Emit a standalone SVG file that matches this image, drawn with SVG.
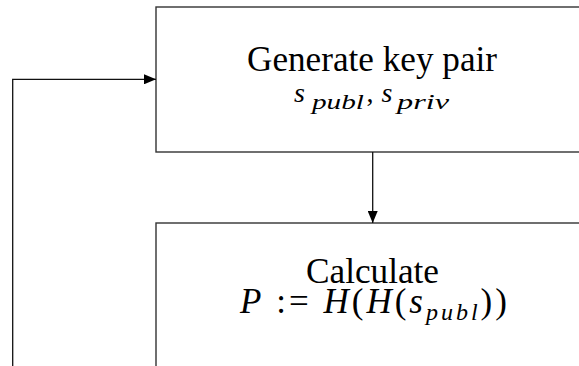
<svg xmlns="http://www.w3.org/2000/svg" width="579" height="366" viewBox="0 0 579 366">
<style>
.box{fill:#fff;stroke:#333;stroke-width:1.4}
.conn{fill:none;stroke:#111;stroke-width:1.3}
text{font-family:"Liberation Serif","DejaVu Serif","Noto Serif","Times New Roman",serif;fill:#000}
.t{font-size:35px}
.m1{font-size:28px;font-style:italic;text-anchor:middle}
.s1{font-size:22px;font-style:italic}
.m2{font-size:35px;text-anchor:middle;letter-spacing:3px}
.i{font-style:italic}
.s2{font-size:24px;font-style:italic}
.u{font-style:normal}
</style>
<defs>
<marker id="ah" viewBox="0 0 12 10" refX="12" refY="5" markerWidth="12" markerHeight="10" markerUnits="userSpaceOnUse" orient="auto">
<path d="M0,0 L12,5 L0,10 z" fill="#000"/>
</marker>
</defs>
<rect width="579" height="366" fill="#fff"/>
<g id="node-generate">
<rect class="box" x="156" y="7" width="460" height="145"/>
<text class="t" x="247" y="71" textLength="250" lengthAdjust="spacingAndGlyphs">Generate key pair</text>
<text class="m1" x="299.5" y="102">s</text>
<text class="s1" x="312" y="109" textLength="52" lengthAdjust="spacingAndGlyphs">publ</text>
<text class="m1 u" x="370" y="102">,</text>
<text class="m1" x="387" y="102">s</text>
<text class="s1" x="397" y="109" textLength="52" lengthAdjust="spacingAndGlyphs">priv</text>
</g>
<g id="node-calculate">
<rect class="box" x="156" y="223" width="460" height="200"/>
<text class="t" x="306" y="283" textLength="133" lengthAdjust="spacingAndGlyphs">Calculate</text>
<text class="m2" x="375" y="313"><tspan class="i">P</tspan> := <tspan class="i">H</tspan>(<tspan class="i">H</tspan>(<tspan class="i">s</tspan><tspan class="s2" dy="7">publ</tspan><tspan dy="-7">))</tspan></text>
</g>
<g id="connectors">
<path class="conn" d="M372.7,152 V223" marker-end="url(#ah)"/>
<path class="conn" d="M12.7,366 V79.3 H156" marker-end="url(#ah)"/>
</g>
</svg>
